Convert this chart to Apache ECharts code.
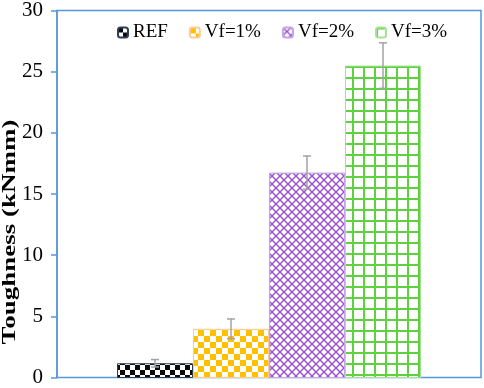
<!DOCTYPE html>
<html>
<head>
<meta charset="utf-8">
<script src="https://cdn.jsdelivr.net/npm/echarts@6/dist/echarts.min.js"></script>
<style>
  html, body { margin: 0; padding: 0; background: #fff; }
  #chart { width: 484px; height: 388px; }
</style>
</head>
<body>
<div id="chart"></div>
<script>
const categories = ['REF', 'Vf=1%', 'Vf=2%', 'Vf=3%']
const toughness = [1.2, 4.0, 16.7, 25.4]
const errors = [0.3, 0.8, 1.35, 1.85]
const yMin = 0
const yMax = 30
const yInterval = 5

const SERIF = '"Liberation Serif", "Times New Roman", serif'
const FRAME = '#5896DC'

// small tiles used as repeating fills
const makeTile = (size, draw) => {
    const c = document.createElement('canvas')
    c.width = size
    c.height = size
    const ctx = c.getContext('2d')
    ctx.fillStyle = '#fff'
    ctx.fillRect(0, 0, size, size)
    draw(ctx, size)
    return c
}

const checker = (cell, color) => makeTile(cell * 2, (ctx) => {
    ctx.fillStyle = color
    ctx.fillRect(0, 0, cell, cell)
    ctx.fillRect(cell, cell, cell, cell)
})

const lattice = makeTile(8, (ctx, s) => {
    ctx.strokeStyle = '#9A4FD0'
    ctx.lineWidth = 1.4
    ctx.beginPath()
    ctx.moveTo(0, 0); ctx.lineTo(s, s)
    ctx.moveTo(s, 0); ctx.lineTo(0, s)
    ctx.stroke()
})

const grid = makeTile(11, (ctx, s) => {
    ctx.fillStyle = '#5FD03F'
    ctx.fillRect(0, 0, 2, s)
    ctx.fillRect(0, 0, s, 2)
})

const fills = [
    { image: checker(5, '#0b0b0b'), repeat: 'repeat' },
    { image: checker(6, '#FFC000'), repeat: 'repeat' },
    { image: lattice, repeat: 'repeat' },
    { image: grid, repeat: 'repeat' },
]
const borders = ['#2F3E55', '#FFCB94', '#C7A2E6', '#A6E294']

const barSeries = categories.map((name, i) => ({
    name,
    type: 'bar',
    xAxisIndex: 1,
    yAxisIndex: 1,
    stack: 'all',
    barWidth: '100%',
    itemStyle: { color: fills[i], borderColor: borders[i], borderWidth: 1 },
    emphasis: { disabled: true },
    data: categories.map((_, j) => (j === i ? toughness[i] : '-')),
}))

const errorSeries = {
    type: 'custom',
    xAxisIndex: 1,
    yAxisIndex: 1,
    silent: true,
    z: 5,
    data: toughness.map((v, i) => [i, v - errors[i], v + errors[i]]),
    renderItem: (params, api) => {
        const lo = api.coord([api.value(0), api.value(1)])
        const hi = api.coord([api.value(0), api.value(2)])
        const half = 4
        const style = { stroke: '#A3A3A3', lineWidth: 1.5 }
        return {
            type: 'group',
            children: [
                { type: 'line', shape: { x1: hi[0], y1: hi[1], x2: lo[0], y2: lo[1] }, style },
                { type: 'line', shape: { x1: hi[0] - half, y1: hi[1], x2: hi[0] + half, y2: hi[1] }, style },
                { type: 'line', shape: { x1: lo[0] - half, y1: lo[1], x2: lo[0] + half, y2: lo[1] }, style },
            ],
        }
    },
}

const chart = echarts.init(document.getElementById('chart'))
chart.setOption({
    animation: false,
    legend: {
        data: categories,
        left: 112,
        top: 18,
        itemWidth: 10,
        itemHeight: 10,
        itemGap: 21,
        textStyle: { fontFamily: SERIF, fontSize: 19, color: '#000' },
    },
    grid: [
        { left: 57, right: 3, top: 9, bottom: 10, show: true, borderColor: FRAME, borderWidth: 1.5, backgroundColor: 'transparent' },
        { left: 117, right: 63, top: 9, bottom: 10 },
    ],
    xAxis: [
        { type: 'category', gridIndex: 0, data: [''], show: false },
        { type: 'category', gridIndex: 1, data: categories, show: false },
    ],
    yAxis: [
        {
            type: 'value',
            gridIndex: 0,
            min: yMin,
            max: yMax,
            interval: yInterval,
            axisLine: { show: true, lineStyle: { color: FRAME, width: 1.5 } },
            axisTick: { show: true, length: 6, lineStyle: { color: FRAME, width: 1.5 } },
            axisLabel: { margin: 14, fontFamily: SERIF, fontSize: 21, color: '#000' },
            splitLine: { show: false },
        },
        { type: 'value', gridIndex: 1, min: yMin, max: yMax, interval: yInterval, show: false },
    ],
    graphic: [
        {
            type: 'text',
            x: 10,
            y: 232,
            rotation: Math.PI / 2,
            scaleY: 0.66,
            style: {
                text: 'Toughness (kNmm)',
                font: 'bold 27px ' + SERIF,
                fill: '#000',
                textAlign: 'center',
                textVerticalAlign: 'middle',
            },
        },
    ],
    series: [...barSeries, errorSeries],
})
</script>
</body>
</html>
